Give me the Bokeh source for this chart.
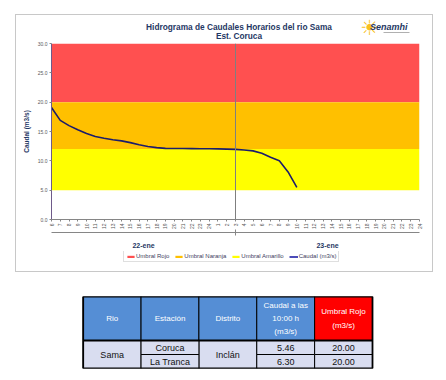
import math
from bokeh.plotting import figure
from bokeh.models import (Range1d, FixedTicker, LinearAxis, Legend, LegendItem,
                          Span, PrintfTickFormatter, ColumnDataSource)
from bokeh.layouts import column
from bokeh.embed import file_html
from bokeh.resources import INLINE
from bokeh.core.properties import value

# ---------------- data ----------------
title_lines = ["Hidrograma de Caudales Horarios del rio Sama", "Est. Coruca"]
hour_labels = [str(h) for h in range(6, 25)] + [str(h) for h in range(1, 25)]
day_labels = ["22-ene", "23-ene"]
day_split_index = 21
flow = [19.1, 16.9, 16.0, 15.3, 14.65, 14.15, 13.85, 13.6, 13.4, 13.1, 12.75, 12.45,
        12.25, 12.12, 12.1, 12.1, 12.08, 12.06, 12.05, 12.03, 12.0, 11.95, 11.85, 11.7,
        11.3, 10.6, 10.0, 8.1, 5.46]
band_names = ["Umbral Rojo", "Umbral Naranja", "Umbral Amarillo"]
band_low = [20, 12, 5]
band_high = [30, 20, 12]
series_name = "Caudal (m3/s)"
y_ticks = [0, 5, 10, 15, 20, 25, 30]

table_header = ["Rio", "Estación", "Distrito", "Caudal a las\n10:00 h\n(m3/s)", "Umbral Rojo\n(m3/s)"]
river = "Sama"
district = "Inclán"
stations = ["Coruca", "La Tranca"]
flow_10h = [5.46, 6.30]
red_threshold = [20.00, 20.00]

# ---------------- styles ----------------
FONT_S = "Liberation Sans"
FONT = value(FONT_S)
NAVY = "#1F3864"
band_colors = ["#FF5050", "#FFC000", "#FFFF00"]
curve_color = "#1C1C6B"
axis_gray = "#868686"
label_gray = "#595959"

W = 438
BL, BR = 51, 19
FRAME_W = W - BL - BR
HEADER_H, CHART_H, LEGEND_H, TABLE_H = 41, 210, 27, 102

n = len(hour_labels)
xs = list(range(len(flow)))
NAN = float("nan")

common = dict(output_backend="svg", toolbar_location=None, width=W,
              min_border_left=BL, min_border_right=BR)

# ---------------- header (titles + logo) ----------------
h = figure(height=HEADER_H, x_range=Range1d(BL, W - BR), y_range=Range1d(HEADER_H, 0),
           x_axis_location=None, y_axis_location=None, min_border_top=0, min_border_bottom=0,
           **common)
h.grid.visible = False
h.outline_line_color = None
h.border_fill_color = None
h.background_fill_color = None
h.text(x=[238.5, 238.5], y=[26, 35.5], text=title_lines, text_align="center",
       text_baseline="middle", text_font=FONT, text_font_size="8.3px",
       text_font_style="bold", text_color=NAVY)
h.text(x=[369], y=[27], text=["☀"], text_align="center", text_baseline="middle",
       text_font=value("DejaVu Sans"), text_font_size="21px", text_color="#F7B800",
       text_alpha=0.9)
h.text(x=[369.5], y=[26.5], text=["Senamhi"], text_align="left", text_baseline="middle",
       text_font=FONT, text_font_size="9px", text_font_style="bold italic", text_color=NAVY)
h.segment(x0=[383], y0=[32], x1=[409], y1=[32], line_color="#B0B0B0", line_width=1)

# ---------------- chart ----------------
p = figure(height=CHART_H, x_range=Range1d(0, n - 1), y_range=Range1d(0, 30),
           min_border_top=2, min_border_bottom=28, **common)
p.grid.visible = False
p.outline_line_color = None
p.border_fill_color = None

for i in range(3):
    p.quad(left=0, right=n - 1, bottom=band_low[i], top=band_high[i],
           fill_color=band_colors[i], line_color=None)

p.add_layout(Span(location=day_split_index, dimension="height", line_color="#7F7F7F",
                  line_width=1))
p.line(xs, flow, line_color=curve_color, line_width=1.6)

xa = p.xaxis[0]
xa.ticker = FixedTicker(ticks=list(range(n)), minor_ticks=[])
xa.major_label_overrides = {i: lbl for i, lbl in enumerate(hour_labels)}
xa.major_label_orientation = math.pi / 2
xa.major_label_text_font_size = "5px"
xa.major_label_text_font = FONT_S
xa.major_label_text_color = label_gray
xa.major_tick_out = 2
xa.major_tick_in = 0
xa.major_tick_line_color = axis_gray
xa.axis_line_color = axis_gray
xa.major_label_standoff = 2

centers = [day_split_index / 2, (day_split_index + n - 1) / 2]
xa2 = LinearAxis(ticker=FixedTicker(ticks=centers, minor_ticks=[day_split_index]),
                 major_label_overrides={c: d for c, d in zip(centers, day_labels)},
                 major_tick_line_color=None, minor_tick_line_color=axis_gray,
                 minor_tick_in=3, minor_tick_out=3, axis_line_color=axis_gray,
                 major_label_text_font_style="bold", major_label_text_font_size="7px",
                 major_label_text_font=FONT_S, major_label_text_color=NAVY,
                 major_label_standoff=3)
p.add_layout(xa2, "below")

ya = p.yaxis[0]
ya.ticker = FixedTicker(ticks=y_ticks, minor_ticks=[])
ya.formatter = PrintfTickFormatter(format="%.1f")
ya.major_label_text_font_size = "5px"
ya.major_label_text_font = FONT_S
ya.major_label_text_color = label_gray
ya.major_tick_out = 2
ya.major_tick_in = 0
ya.major_tick_line_color = axis_gray
ya.axis_line_color = "#6E5A8A"
ya.major_label_standoff = 2
ya.axis_label = "Caudal (m3/s)"
ya.axis_label_text_font_size = "6.5px"
ya.axis_label_text_font_style = "bold"
ya.axis_label_text_font = FONT_S
ya.axis_label_text_color = NAVY
ya.axis_label_standoff = 5

# ---------------- legend strip ----------------
lg = figure(height=LEGEND_H, x_range=Range1d(BL, W - BR), y_range=Range1d(0, LEGEND_H),
            x_axis_location=None, y_axis_location=None, min_border_top=0, min_border_bottom=0,
            **common)
lg.grid.visible = False
lg.outline_line_color = None
lg.border_fill_color = None
lg.background_fill_color = None
# legend-only renderers (one undefined row each, so nothing is drawn in the strip)
leg_renderers = [lg.quad(left=[NAN], right=[NAN], bottom=[NAN], top=[NAN],
                         fill_color=band_colors[i], line_color=None) for i in range(3)]
leg_renderers.append(lg.line(x=[NAN], y=[NAN], line_color="#1010A0", line_width=1.5))
items = [LegendItem(label=nm, renderers=[r])
         for nm, r in zip(band_names + [series_name], leg_renderers)]
legend = Legend(items=items, orientation="horizontal", location=(72, 16),
                label_text_font_size="6px", label_text_font=FONT_S, label_text_color="#404060",
                glyph_width=9, glyph_height=3, label_height=5, label_standoff=1,
                spacing=5, padding=2, margin=0, border_line_color="#BFBFBF",
                border_line_width=1, background_fill_alpha=0)
lg.add_layout(legend)

chart_block = column(h, p, lg, spacing=0, styles={
    "box-shadow": ("inset 15px 0 0 0 white, inset -5px 0 0 0 white, "
                   "inset 0 14px 0 0 white, inset 0 -6px 0 0 white, "
                   "inset 16px 0 0 0 #C8C8C8, inset -6px 0 0 0 #C8C8C8, "
                   "inset 0 15px 0 0 #C8C8C8, inset 0 -7px 0 0 #C8C8C8")})

# ---------------- table ----------------
TABLE_LEFT_PX, TABLE_RIGHT_PX = 82.7 - BL, 372.0 - BL
n_cols = len(table_header)
unit_px = (TABLE_RIGHT_PX - TABLE_LEFT_PX) / n_cols
tx_start = -TABLE_LEFT_PX / unit_px
tx_end = (FRAME_W - TABLE_LEFT_PX) / unit_px

t = figure(height=TABLE_H, x_range=Range1d(tx_start, tx_end), y_range=Range1d(0, 72),
           x_axis_location=None, y_axis_location=None,
           min_border_top=18, min_border_bottom=TABLE_H - 18 - 72, **common)
t.grid.visible = False
t.outline_line_color = None

HEADER_BOTTOM, ROW_H, TOP = 28, 14, 72
body_fill = "#D9DDF0"
header_colors = ["#558ED5"] * 4 + ["#FF0000"]

t.quad(left=list(range(n_cols)), right=[c + 1 for c in range(n_cols)],
       bottom=[HEADER_BOTTOM] * n_cols, top=[TOP] * n_cols,
       fill_color=header_colors, line_color="black", line_width=1)
t.text(x=[c + 0.5 for c in range(n_cols)], y=[(HEADER_BOTTOM + TOP) / 2] * n_cols,
       text=table_header, text_align="center", text_baseline="middle", text_color="white",
       text_font=FONT, text_font_size="8px", text_line_height=1.45)

merged_cols = [0, 2]
t.quad(left=merged_cols, right=[c + 1 for c in merged_cols], bottom=[0, 0],
       top=[HEADER_BOTTOM] * 2, fill_color=body_fill, line_color="black", line_width=1)
split_cols = [1, 3, 4]
sl, sr, sb, st = [], [], [], []
for c in split_cols:
    for r in range(2):
        sl.append(c); sr.append(c + 1)
        sb.append(HEADER_BOTTOM - (r + 1) * ROW_H); st.append(HEADER_BOTTOM - r * ROW_H)
t.quad(left=sl, right=sr, bottom=sb, top=st, fill_color=body_fill, line_color="black",
       line_width=1)

tx, ty, tt = [], [], []
tx += [0.5, 2.5]; ty += [HEADER_BOTTOM / 2] * 2; tt += [river, district]
for r in range(2):
    yc = HEADER_BOTTOM - (r + 0.5) * ROW_H
    tx += [1.5, 3.5, 4.5]; ty += [yc] * 3
    tt += [stations[r], f"{flow_10h[r]:.2f}", f"{red_threshold[r]:.2f}"]
t.text(x=tx, y=ty, text=tt, text_align="center", text_baseline="middle",
       text_color="#111111", text_font=FONT, text_font_size="9px")

t.quad(left=[0], right=[n_cols], bottom=[0], top=[TOP], fill_color=None, line_color="black",
       line_width=1.8)
t.segment(x0=[0], y0=[HEADER_BOTTOM], x1=[n_cols], y1=[HEADER_BOTTOM], line_color="black",
          line_width=1.8)

layout = column(chart_block, t, spacing=0)
open("out.html", "w").write(file_html(layout, INLINE))
